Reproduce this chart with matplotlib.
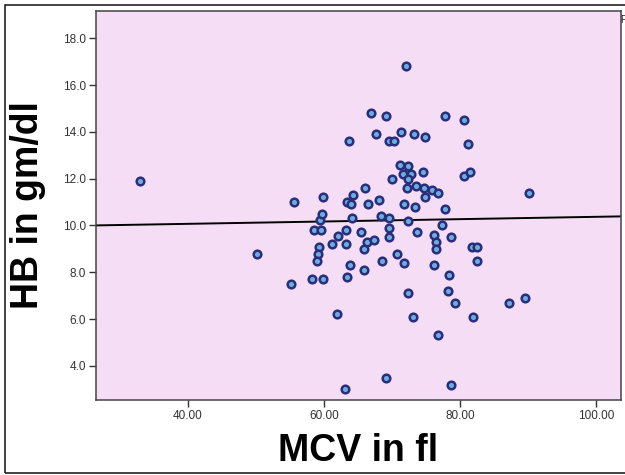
import matplotlib
matplotlib.use("Agg")
import matplotlib.pyplot as plt
from matplotlib.patches import Rectangle
import numpy as np

plt.rcParams['font.family'] = ['Liberation Sans', 'DejaVu Sans']

# MCV (fl) and HB (gm/dl)
mcv = [33.0, 50.2, 55.6, 55.2, 58.2, 59.8, 58.5, 59.5, 59.2, 59.1,
       58.9, 59.4, 59.7, 59.9, 61.1, 62.0, 61.9, 63.2, 63.2, 63.3,
       63.8, 63.1, 63.3, 64.0, 64.1, 64.2, 63.6, 65.4, 65.9, 65.9,
       66.0, 66.3, 67.4, 66.5, 66.9, 67.6, 68.1, 68.4, 68.5, 69.5,
       69.5, 69.5, 69.1, 69.6, 70.3, 69.1, 70.0, 70.7, 71.2, 71.3,
       71.6, 71.7, 71.8, 72.0, 72.3, 72.75, 72.4, 72.2, 72.3, 72.3,
       73.1, 73.2, 73.4, 73.5, 73.7, 74.5, 74.75, 74.85, 74.9, 75.8,
       76.1, 76.1, 76.4, 76.5, 76.7, 76.8, 77.4, 77.8, 77.8, 78.2,
       78.3, 78.6, 78.7, 79.3, 80.6, 80.6, 81.2, 81.5, 81.8, 82.5,
       82.5, 81.9, 87.25, 89.6, 90.1]
hb = [11.9, 8.8, 11.0, 7.5, 7.7, 7.7, 9.8, 9.8, 9.1, 8.8,
      8.5, 10.25, 10.5, 11.2, 9.2, 9.55, 6.2, 9.8, 9.2, 7.8,
      8.3, 3.0, 11.0, 10.9, 10.3, 11.3, 13.6, 9.7, 9.0, 8.1,
      11.6, 9.3, 9.4, 10.9, 14.8, 13.9, 11.1, 10.4, 8.5, 10.3,
      9.9, 9.5, 14.7, 13.6, 13.6, 3.5, 12.0, 8.8, 12.6, 14.0,
      12.2, 10.9, 8.4, 16.8, 12.55, 12.2, 12.0, 11.6, 10.2, 7.1,
      6.1, 13.9, 10.8, 11.7, 9.7, 12.3, 11.6, 11.2, 13.8, 11.5,
      9.6, 8.3, 9.3, 9.0, 11.4, 5.3, 10.0, 10.7, 14.7, 7.2,
      7.9, 3.2, 9.5, 6.7, 14.5, 12.1, 13.5, 12.3, 9.1, 9.1,
      8.5, 6.1, 6.7, 6.9, 11.4]

# fit line (intercept, slope)
fit_b0 = 9.87
fit_b1 = 0.005

x_ticks = [40, 60, 80, 100]
y_ticks = [4, 6, 8, 10, 12, 14, 16, 18]

fig = plt.figure(figsize=(6.25, 4.75), dpi=100)
fig.patch.set_facecolor('white')

# outer frame of the chart window (runs off the right edge)
fig.patches.append(Rectangle((5/625, 2/475), 1.2, 468/475, transform=fig.transFigure,
                             fill=False, edgecolor='#222222', linewidth=1.2))

ax = fig.add_axes([95.7/625, 1 - 400/475, 525/625, (400 - 10.7)/475])
ax.set_facecolor('#f5ddf5')

ax.scatter(mcv, hb, s=30, facecolor='#6aaede', edgecolor='#2a2d7c', linewidth=1.8, zorder=3)

xl = np.array([26.43, 103.6])
ax.plot(xl, fit_b0 + fit_b1 * xl, color='black', linewidth=1.4, zorder=2)

ax.set_xlim(26.43, 103.6)
ax.set_ylim(2.54, 19.18)
ax.set_xticks(x_ticks)
ax.set_xticklabels(['%.2f' % v for v in x_ticks])
ax.set_yticks(y_ticks)
ax.set_yticklabels(['%.1f' % v for v in y_ticks])
ax.tick_params(axis='both', labelsize=8.5, colors='#333333', length=5, width=1, pad=2)

for s in ax.spines.values():
    s.set_color('#444444')
    s.set_linewidth(1.1)

ax.set_xlabel('MCV in fl', fontsize=27, fontweight='bold', labelpad=8)
ax.set_ylabel('HB in gm/dl', fontsize=27, fontweight='bold', labelpad=12)

# cut-off text at the top right corner
fig.text(620/625, 1 - 20/475, 'F', fontsize=7, color='#222222', va='center')

fig.savefig('out.png', dpi=100)
